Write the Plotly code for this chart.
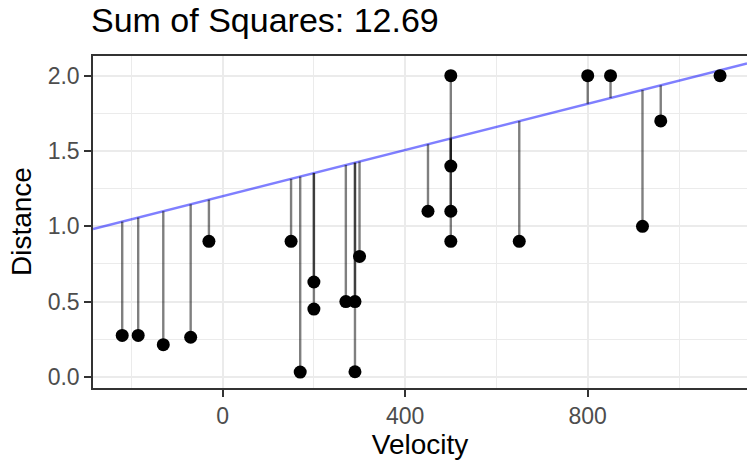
import plotly.graph_objects as go

# Hubble data
velocity = [170, 290, -130, -70, -185, -220, 200, 290, 270, 200, 300, -30,
            650, 150, 500, 920, 450, 500, 500, 960, 500, 850, 800, 1090]
distance = [0.032, 0.034, 0.214, 0.263, 0.275, 0.275, 0.45, 0.5, 0.5, 0.63, 0.8, 0.9,
            0.9, 0.9, 0.9, 1.0, 1.1, 1.1, 1.4, 1.7, 2.0, 2.0, 2.0, 2.0]
intercept = 1.2
slope = 0.000767
title_text = "Sum of Squares: 12.69"

x_range = [-284, 1149]
y_range = [-0.074, 2.131]

FONT = "Liberation Sans, Arial, Helvetica, sans-serif"

fig = go.Figure()

# fitted (guessed) line across the panel
fig.add_trace(go.Scatter(
    x=x_range, y=[intercept + slope * x for x in x_range],
    mode="lines", line=dict(color="rgba(0,0,255,0.5)", width=2.5),
    hoverinfo="skip", showlegend=False))

# residual segments
for v, d in zip(velocity, distance):
    fig.add_trace(go.Scatter(
        x=[v, v], y=[d, intercept + slope * v],
        mode="lines", line=dict(color="rgba(0,0,0,0.5)", width=2.4),
        hoverinfo="skip", showlegend=False))

# points
fig.add_trace(go.Scatter(
    x=velocity, y=distance, mode="markers",
    marker=dict(color="black", size=13, line=dict(width=0)),
    showlegend=False))

axis_common = dict(
    showgrid=True, gridcolor="#EBEBEB", gridwidth=1.8,
    zeroline=False, showline=True, linecolor="#333333", linewidth=1.5,
    ticks="outside", ticklen=7, tickwidth=1.5, tickcolor="#333333",
    tickfont=dict(family=FONT, size=23, color="#4D4D4D"),
    automargin=False,
)

fig.update_xaxes(
    **axis_common, range=x_range, mirror=True,
    tickmode="array", tickvals=[0, 400, 800], ticktext=["0", "400", "800"],
    minor=dict(tickmode="array", tickvals=[-200, 200, 600, 1000], showgrid=True,
               gridcolor="#EBEBEB", gridwidth=0.9, ticks=""),
    title=dict(text="Velocity", font=dict(family=FONT, size=28, color="black"), standoff=6),
)
fig.update_yaxes(
    **axis_common, range=y_range, mirror=False,
    tickmode="array", tickvals=[0, 0.5, 1.0, 1.5, 2.0],
    ticktext=["0.0", "0.5", "1.0", "1.5", "2.0"],
    minor=dict(tickmode="array", tickvals=[0.25, 0.75, 1.25, 1.75], showgrid=True,
               gridcolor="#EBEBEB", gridwidth=0.9, ticks=""),
)

fig.add_annotation(
    text="Distance", textangle=-90, showarrow=False,
    xref="paper", x=-(93 - 21) / (747 - 93), xanchor="center",
    yref="paper", y=0.5, yanchor="middle",
    font=dict(family=FONT, size=28, color="black"),
)

fig.update_layout(
    width=747, height=460,
    margin=dict(l=93, r=0, t=56, b=72),
    paper_bgcolor="white", plot_bgcolor="white",
    title=dict(text=title_text, font=dict(family=FONT, size=34, color="black"),
               xref="container", x=91 / 747, xanchor="left",
               yref="container", y=1 - 20 / 460, yanchor="middle"),
    showlegend=False,
)

fig.write_html("out.html", config={"displayModeBar": False},
               post_script="document.body.style.margin='0';")
